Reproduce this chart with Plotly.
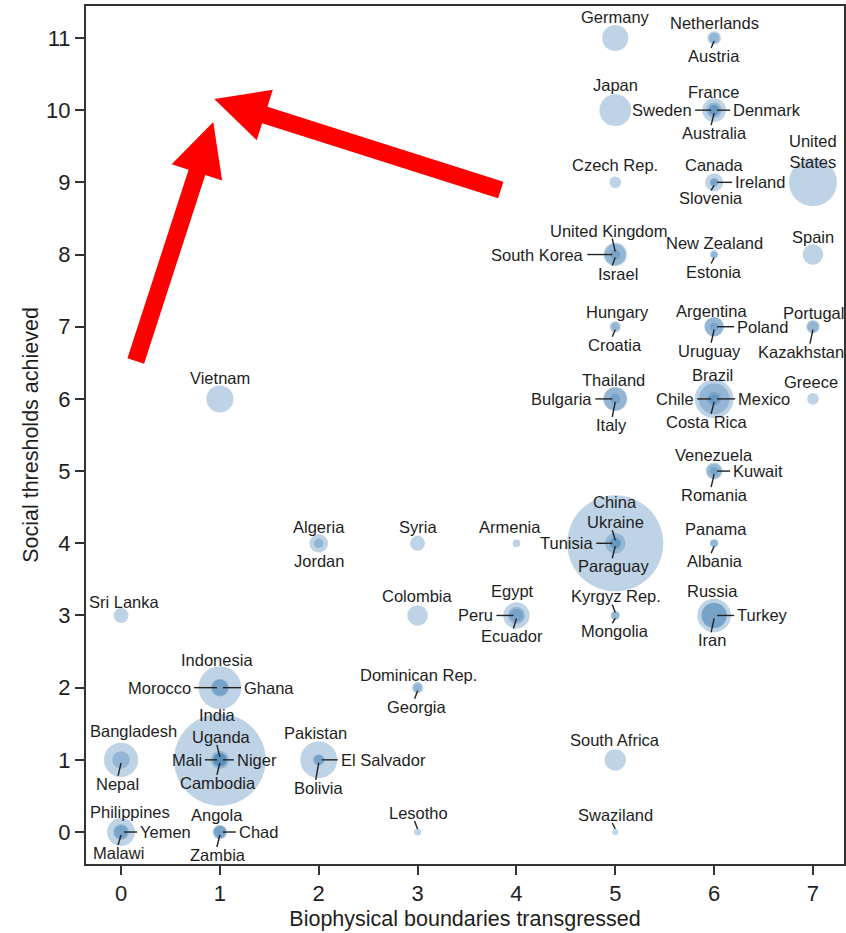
import math
import plotly.graph_objects as go

# ---------------- data ----------------
countries = [
    "Germany", "Netherlands", "Austria",
    "Japan", "France", "Sweden", "Denmark", "Australia",
    "Czech Rep.", "Canada", "Ireland", "Slovenia", "United States",
    "United Kingdom", "South Korea", "Israel", "New Zealand", "Estonia", "Spain",
    "Hungary", "Croatia", "Argentina", "Poland", "Uruguay", "Portugal", "Kazakhstan",
    "Vietnam", "Thailand", "Bulgaria", "Italy", "Brazil", "Chile", "Mexico", "Costa Rica", "Greece",
    "Venezuela", "Kuwait", "Romania",
    "Algeria", "Jordan", "Syria", "Armenia", "China", "Ukraine", "Tunisia", "Paraguay", "Panama", "Albania",
    "Sri Lanka", "Colombia", "Egypt", "Peru", "Ecuador", "Kyrgyz Rep.", "Mongolia", "Russia", "Turkey", "Iran",
    "Indonesia", "Morocco", "Ghana", "Dominican Rep.", "Georgia",
    "Bangladesh", "Nepal", "India", "Uganda", "Mali", "Niger", "Cambodia", "Pakistan", "El Salvador", "Bolivia",
    "South Africa",
    "Philippines", "Yemen", "Malawi", "Angola", "Chad", "Zambia", "Lesotho", "Swaziland",
]

boundaries_transgressed = [
    5, 6, 6,
    5, 6, 6, 6, 6,
    5, 6, 6, 6, 7,
    5, 5, 5, 6, 6, 7,
    5, 5, 6, 6, 6, 7, 7,
    1, 5, 5, 5, 6, 6, 6, 6, 7,
    6, 6, 6,
    2, 2, 3, 4, 5, 5, 5, 5, 6, 6,
    0, 3, 4, 4, 4, 5, 5, 6, 6, 6,
    1, 1, 1, 3, 3,
    0, 0, 1, 1, 1, 1, 1, 2, 2, 2,
    5,
    0, 0, 0, 1, 1, 1, 3, 5,
]

social_thresholds = [
    11, 11, 11,
    10, 10, 10, 10, 10,
    9, 9, 9, 9, 9,
    8, 8, 8, 8, 8, 8,
    7, 7, 7, 7, 7, 7, 7,
    6, 6, 6, 6, 6, 6, 6, 6, 6,
    5, 5, 5,
    4, 4, 4, 4, 4, 4, 4, 4, 4, 4,
    3, 3, 3, 3, 3, 3, 3, 3, 3, 3,
    2, 2, 2, 2, 2,
    1, 1, 1, 1, 1, 1, 1, 1, 1, 1,
    1,
    0, 0, 0, 0, 0, 0, 0, 0,
]

# population, millions (bubble area)
population = [
    81, 16.7, 8.4,
    127, 65, 9.5, 5.6, 22.6,
    10.5, 34.5, 4.6, 2.05, 312,
    63, 50, 7.8, 4.4, 1.3, 46,
    10, 4.3, 41, 38.5, 3.4, 10.6, 16.6,
    88, 67, 7.3, 60, 197, 17.3, 117, 4.7, 11.1,
    29.5, 3.2, 20,
    36.7, 6.2, 21, 3, 1344, 45.7, 10.7, 6.6, 3.6, 2.9,
    20.9, 46.9, 83, 29.6, 15.2, 5.5, 2.8, 143, 74, 75,
    244, 32.3, 25, 10, 4.5,
    150, 30.5, 1221, 34.5, 15.8, 16.1, 14.3, 176, 6.2, 10.1,
    51,
    95, 24, 15.4, 19.6, 11.5, 13.5, 2.2, 1.2,
]

x_ticks = [0, 1, 2, 3, 4, 5, 6, 7]
y_ticks = [0, 1, 2, 3, 4, 5, 6, 7, 8, 9, 10, 11]

x_title = "Biophysical boundaries transgressed"
y_title = "Social thresholds achieved"

# ---------------- label layout (anchor, dx px, dy px [screen, down +], leader line) ----------------
LABEL_LAYOUT = {
    "Germany": ("c", 0, -21, False), "Netherlands": ("c", 0, -15, False), "Austria": ("c", 0, 18, True),
    "Japan": ("c", 0, -25, False), "France": ("c", -1, -18, False), "Sweden": ("l", -20, 0, True),
    "Denmark": ("r", 17, 0, True), "Australia": ("c", 0, 23, True),
    "Czech Rep.": ("c", 0, -17, False), "Canada": ("c", 0, -17, False), "Ireland": ("r", 19, 0, True),
    "Slovenia": ("c", -3, 16, True), "United States": ("c", 0, -31, False),
    "United Kingdom": ("c", -7, -24, True), "South Korea": ("l", -29, 0, True), "Israel": ("c", 3, 19, True),
    "New Zealand": ("c", 0, -12, False), "Estonia": ("c", 0, 17, True), "Spain": ("c", 0, -18, False),
    "Hungary": ("c", 2, -15, False), "Croatia": ("c", 0, 18, True), "Argentina": ("c", -3, -16, False),
    "Poland": ("r", 21, 0, True), "Uruguay": ("c", -5, 24, True), "Portugal": ("c", 1, -14, False),
    "Kazakhstan": ("c", -12, 25, True),
    "Vietnam": ("c", 0, -21, False), "Thailand": ("c", -2, -19, False), "Bulgaria": ("l", -21, 0, True),
    "Italy": ("c", -4, 26, True), "Brazil": ("c", -2, -24, False), "Chile": ("l", -18, 0, True),
    "Mexico": ("r", 22, 0, True), "Costa Rica": ("c", -7, 23, True), "Greece": ("c", -2, -17, False),
    "Venezuela": ("c", 0, -16, False), "Kuwait": ("r", 17, 0, True), "Romania": ("c", 0, 24, True),
    "Algeria": ("c", 0, -16, False), "Jordan": ("c", 0, 18, False), "Syria": ("c", 0, -16, False),
    "Armenia": ("c", -6, -16, False), "China": ("c", 0, -41, False), "Ukraine": ("c", 0, -21, True),
    "Tunisia": ("l", -20, 0, True), "Paraguay": ("c", -2, 23, True), "Panama": ("c", 2, -14, False),
    "Albania": ("c", 1, 18, True),
    "Sri Lanka": ("c", 3, -13, False), "Colombia": ("c", 0, -19, False), "Egypt": ("c", -4, -24, False),
    "Peru": ("l", -21, 0, True), "Ecuador": ("c", -4, 21, True), "Kyrgyz Rep.": ("c", 1, -19, True),
    "Mongolia": ("c", 0, 16, True), "Russia": ("c", -2, -24, False), "Turkey": ("r", 21, 0, True),
    "Iran": ("c", -2, 25, True),
    "Indonesia": ("c", -3, -28, False), "Morocco": ("l", -27, 0, True), "Ghana": ("r", 22, 0, True),
    "Dominican Rep.": ("c", 1, -13, False), "Georgia": ("c", -1, 19, True),
    "Bangladesh": ("c", 12, -29, False), "Nepal": ("c", -4, 24, True), "India": ("c", -2, -45, False),
    "Uganda": ("c", 2, -23, True), "Mali": ("l", -16, 0, True), "Niger": ("r", 15, 0, True),
    "Cambodia": ("c", -2, 23, True), "Pakistan": ("c", -3, -27, False), "El Salvador": ("r", 20, 0, True),
    "Bolivia": ("c", 0, 28, True), "South Africa": ("c", 0, -20, False),
    "Philippines": ("c", 9, -20, False), "Yemen": ("r", 17, 0, True), "Malawi": ("c", -3, 21, True),
    "Angola": ("c", -3, -17, False), "Chad": ("r", 17, 0, True), "Zambia": ("c", -2, 23, True),
    "Lesotho": ("c", 1, -19, True), "Swaziland": ("c", 0, -17, True),
}
LABEL_TEXT = {"United States": "United<br>States"}

FONT = "Liberation Sans, Arial, Helvetica, sans-serif"
TEXT_COLOR = "#1e1e1e"
BUBBLE = "rgba(70,130,180,0.5)"

# bubble diameter grows with sqrt(population) (area ~ population)
diam = [3.3 + 2.53 * math.sqrt(p) for p in population]

fig = go.Figure()
fig.add_trace(go.Scatter(
    x=boundaries_transgressed, y=social_thresholds, mode="markers",
    text=countries, hoverinfo="text",
    marker=dict(size=diam, sizemode="diameter", color=BUBBLE, line=dict(width=0)),
    showlegend=False,
))

annotations = []
shapes = []
for c, xv, yv in zip(countries, boundaries_transgressed, social_thresholds):
    anchor, dx, dy, leader = LABEL_LAYOUT[c]
    xanchor = {"c": "center", "l": "right", "r": "left"}[anchor]
    annotations.append(dict(
        x=xv, y=yv, xref="x", yref="y", text=LABEL_TEXT.get(c, c), showarrow=False,
        xanchor=xanchor, yanchor="middle", xshift=dx, yshift=-dy,
        font=dict(family=FONT, size=16.5, color=TEXT_COLOR),
    ))
    if leader:
        if anchor == "l":
            p0, p1 = (-3, 0), (dx + 1, 0)
        elif anchor == "r":
            p0, p1 = (3, 0), (dx - 1, 0)
        elif dy > 0:
            p0, p1 = (0, 3), (-3, dy - 8)
        else:
            p0, p1 = (0, -3), (-3, dy + 8)
        shapes.append(dict(
            type="line", xref="x", yref="y", xsizemode="pixel", ysizemode="pixel",
            xanchor=xv, yanchor=yv,
            x0=p0[0], x1=p1[0], y0=-p0[1], y1=-p1[1],
            line=dict(color="#222222", width=1.4), layer="above",
        ))


# red overlay arrows: tip at a data point, tail given as screen-pixel offset from the tip
def arrow_shape(tip_x, tip_y, tail_dx, tail_dy, shaft=17.5, head_len=53, head_w=53):
    length = math.hypot(tail_dx, tail_dy)
    ux, uy = -tail_dx / length, -tail_dy / length      # unit vector tail -> tip (screen coords)
    nx, ny = -uy, ux
    bx, by = -ux * head_len, -uy * head_len              # head base centre relative to tip
    pts = [
        (tail_dx + nx * shaft / 2, tail_dy + ny * shaft / 2),
        (bx + nx * shaft / 2, by + ny * shaft / 2),
        (bx + nx * head_w / 2, by + ny * head_w / 2),
        (0, 0),
        (bx - nx * head_w / 2, by - ny * head_w / 2),
        (bx - nx * shaft / 2, by - ny * shaft / 2),
        (tail_dx - nx * shaft / 2, tail_dy - ny * shaft / 2),
    ]
    path = "M" + " L".join(f"{px:.2f},{-py:.2f}" for px, py in pts) + " Z"
    return dict(type="path", path=path, xref="x", yref="y", xsizemode="pixel", ysizemode="pixel",
                xanchor=tip_x, yanchor=tip_y, fillcolor="#ff0000", line=dict(width=0), layer="above")


shapes.append(arrow_shape(0.933, 9.836, -77.5, 239))
shapes.append(arrow_shape(0.943, 10.155, 286.5, 91))

axis_common = dict(
    showgrid=False, zeroline=False, showline=True, linewidth=2, linecolor="#333333", mirror=True,
    ticks="outside", ticklen=9, tickwidth=2, tickcolor="#333333",
    tickfont=dict(family=FONT, size=22, color=TEXT_COLOR),
)

fig.update_layout(
    width=846, height=933,
    margin=dict(l=86, r=0, t=6, b=69),
    paper_bgcolor="white", plot_bgcolor="white",
    xaxis=dict(range=[-0.3546, 7.314], tickvals=x_ticks,
               title=dict(text=x_title, font=dict(family=FONT, size=21.5, color=TEXT_COLOR), standoff=6),
               **axis_common),
    yaxis=dict(range=[-0.443, 11.443], tickvals=y_ticks,
               title=dict(text=y_title, font=dict(family=FONT, size=21.5, color=TEXT_COLOR), standoff=2),
               **axis_common),
    annotations=annotations, shapes=shapes,
)

fig.write_html("out.html", config={"displayModeBar": False},
               post_script="document.body.style.margin='0';document.body.style.overflow='hidden';")
